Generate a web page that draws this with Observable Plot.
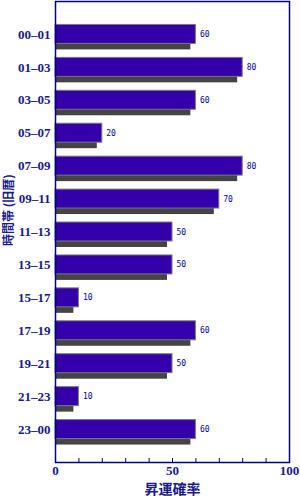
<!DOCTYPE html>
<html><head><meta charset="utf-8">
<script src="https://cdn.jsdelivr.net/npm/d3@7"></script>
<script src="https://cdn.jsdelivr.net/npm/@observablehq/plot@0.6"></script>
<style>body{margin:0;background:#fff}</style>
</head><body><div id="chart"></div>
<script>
const periods = ["00–01","01–03","03–05","05–07","07–09","09–11","11–13","13–15","15–17","17–19","19–21","21–23","23–00"];
const chances = [60,80,60,20,80,70,50,50,10,60,50,10,60];
const xTicks = [0,50,100];
const xMinorTicks = [0,10,20,30,40,50,60,70,80,90,100];
const yTitle = "時間帯 (旧暦)";
const xTitle = "昇運確率";

const data = periods.map((p,i)=>({period:p, value:chances[i]}));
const navy = "#1a1a88";

const chart = Plot.plot({
  width: 300, height: 500,
  marginLeft: 55, marginRight: 11, marginTop: 1, marginBottom: 38,
  style: {background: "#fff"},
  x: {domain: [0,100]},
  y: {domain: periods, type: "band", paddingInner: 0.424, paddingOuter: 0.712, round: false},
  marks: [
    Plot.barX(data, {y: "period", x: "value", fill: "#444444", dy: 6, insetRight: 5}),
    Plot.barX(data, {y: "period", x: "value", fill: "#3300aa", stroke: "#7a7a7a", strokeWidth: 1}),
    Plot.text(data, {y: "period", x: "value", text: d => String(d.value), textAnchor: "start", dx: 4,
      fill: "#000099", fontSize: 8, fontFamily: "DejaVu Sans Mono", style: "letter-spacing:2px"}),
    Plot.frame({stroke: "#000080", strokeWidth: 1.5}),
    Plot.axisX({ticks: xMinorTicks, tickSize: -4, tickFormat: () => "", stroke: "#000080", label: null}),
    Plot.axisX({ticks: xTicks, tickSize: 0, tickPadding: 3, fontSize: 13, fontWeight: "bold",
      fontFamily: "Liberation Serif", fill: navy, label: null}),
    Plot.axisY({tickSize: 0, tickPadding: 5, fontSize: 13, fontWeight: "bold",
      fontFamily: "Liberation Serif", fill: navy, label: null}),
    Plot.text([yTitle], {frameAnchor: "left", textAnchor: "middle", lineAnchor: "middle", rotate: -90,
      dx: -46, dy: -22, fontSize: 12, fontWeight: "bold", fontFamily: "Noto Sans CJK JP", fill: navy}),
    Plot.text([xTitle], {frameAnchor: "bottom", lineAnchor: "middle", dy: 27, fontSize: 14, fontWeight: "bold",
      fontFamily: "Noto Sans CJK JP", fill: navy})
  ]
});
document.getElementById("chart").append(chart);
</script></body></html>
